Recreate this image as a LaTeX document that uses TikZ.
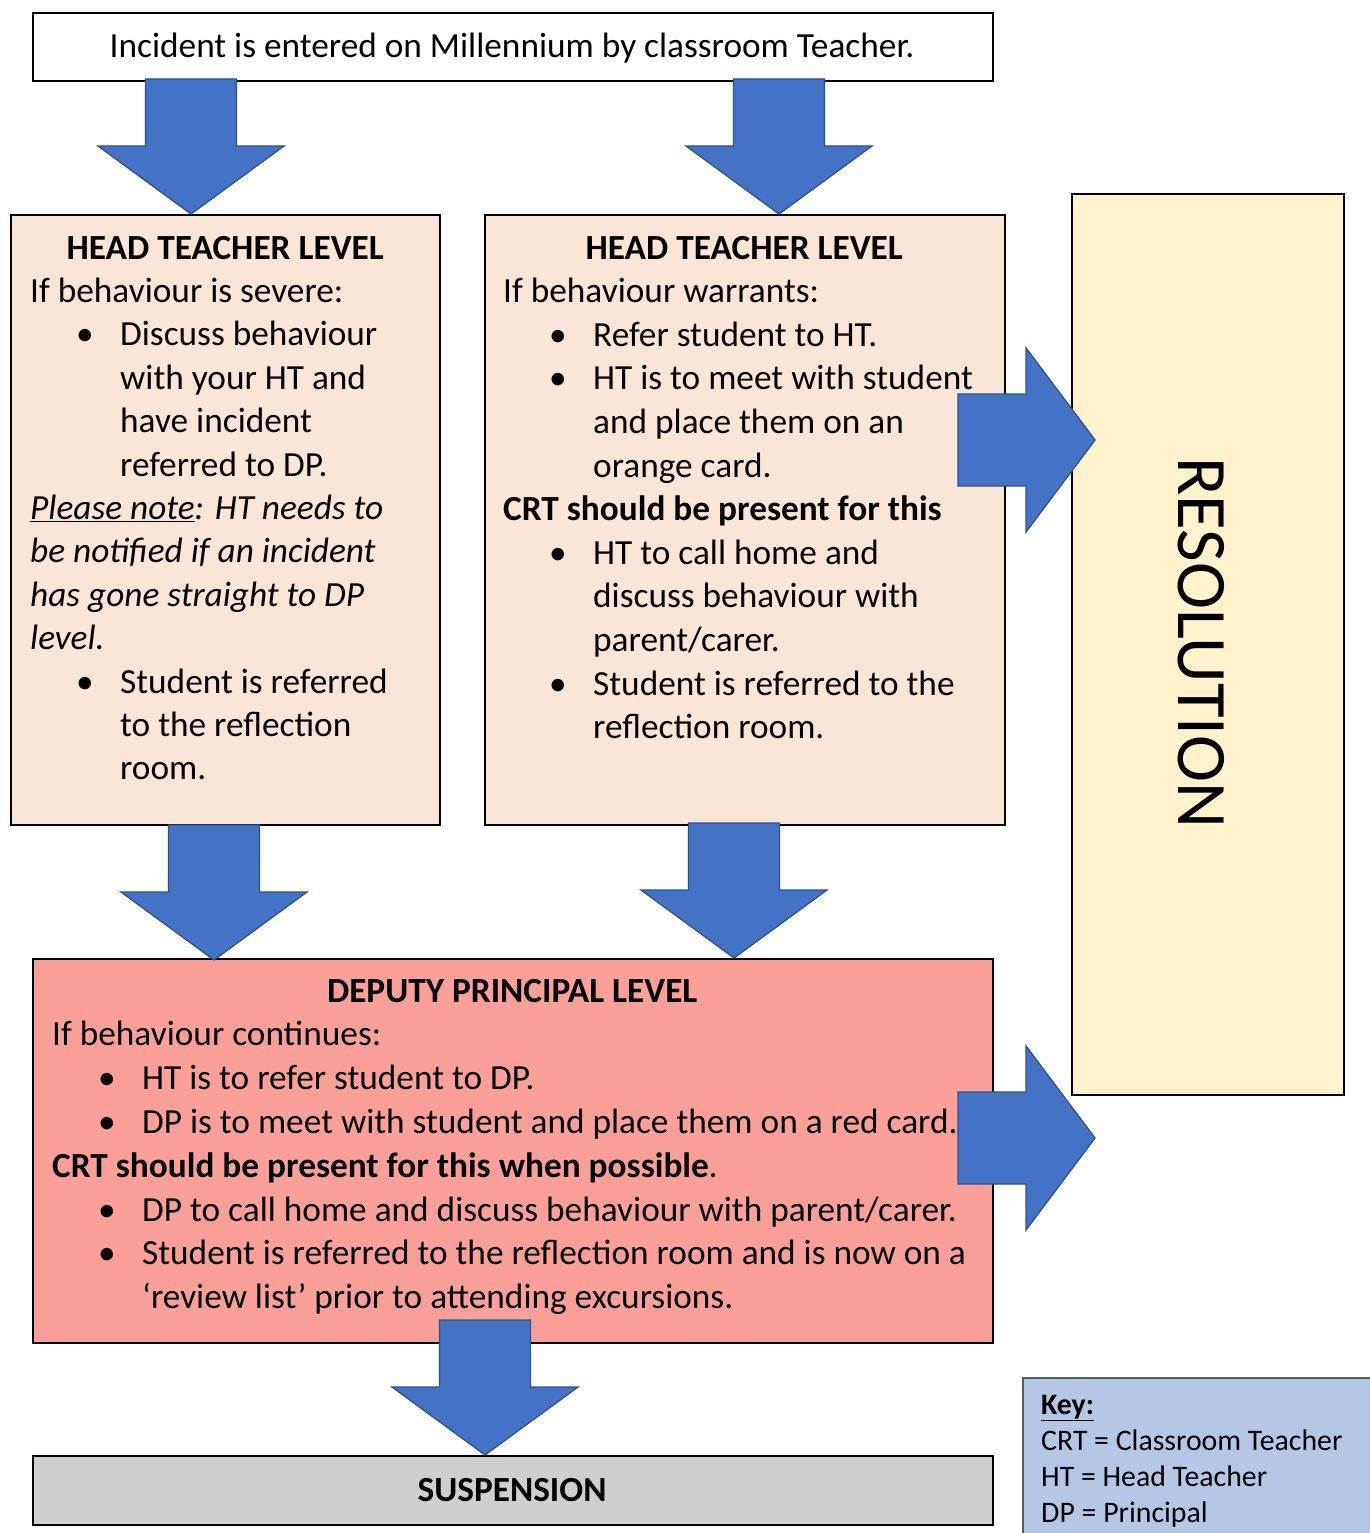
\documentclass[tikz,border=0pt]{standalone}
\usepackage{fontspec}
\setmainfont{Carlito}

\definecolor{htfill}{HTML}{FBE5D6}
\definecolor{dpfill}{RGB}{250,160,152}
\definecolor{resfill}{HTML}{FFF2CC}
\definecolor{susfill}{HTML}{D0CECE}
\definecolor{keyfill}{HTML}{B4C7E7}
\definecolor{keyedge}{HTML}{595959}
\definecolor{arrowblue}{HTML}{4472C4}
\definecolor{arrowedge}{HTML}{2F528F}

% bullet item and hanging continuation
\newcommand\bl{\makebox[90pt][l]{\hspace{46pt}\textbullet}}
\newcommand\ind{\hspace*{90pt}}
\newcommand\mainsize{\fontsize{35.3}{43.4}\selectfont}

\begin{document}
\begin{tikzpicture}[x=1pt,y=-1pt,
  box/.style={draw=black, line width=2pt, rectangle, inner sep=0pt, anchor=north west},
  txt/.style={inner sep=0pt, anchor=base west, font=\mainsize},
  barrow/.style={fill=arrowblue, draw=arrowedge, line width=1.3pt, line join=miter},
  pics/downarrow/.style={code={%
    \path[barrow] (0,0) -- (-93,-68) -- (-45.5,-68) -- (-45.5,-135)
      -- (45.5,-135) -- (45.5,-68) -- (93,-68) -- cycle;}},
  pics/rightarrow/.style={code={%
    \path[barrow] (0,0) -- (-69,-92) -- (-69,-46) -- (-137,-46)
      -- (-137,46) -- (-69,46) -- (-69,92) -- cycle;}},
]
\fill[white] (0,0) rectangle (1369,1533);
\path[use as bounding box] (0,0) rectangle (1369,1533);

% ---- boxes ----
\node[box, fill=white, minimum width=960pt, minimum height=68pt] (start) at (32,12) {};
\node[box, fill=htfill, minimum width=429pt, minimum height=610pt] (htl) at (10,214) {};
\node[box, fill=htfill, minimum width=520pt, minimum height=610pt] (htr) at (484,214) {};
\node[box, fill=resfill, minimum width=272pt, minimum height=901pt] (res) at (1071,193) {};
\node[box, fill=dpfill, minimum width=960pt, minimum height=384pt] (dp) at (32,958) {};
\node[box, fill=susfill, minimum width=960pt, minimum height=69pt] (sus) at (32,1455) {};
\node[box, draw=keyedge, fill=keyfill, minimum width=360pt, minimum height=170pt] (key) at (1022,1377) {};

% ---- texts ----
\node[inner sep=0pt, anchor=base, font=\mainsize] (starttxt) at (512,58)
  {Incident is entered on Millennium by classroom Teacher.};

\node[txt] (htltxt) at (30,259) {\parbox[t]{390pt}{\mainsize
  \makebox[\linewidth]{\bfseries HEAD TEACHER LEVEL}\\
  If behaviour is severe:\\
  \bl Discuss behaviour\\
  \ind with your HT and\\
  \ind have incident\\
  \ind referred to DP.\\
  \textit{\underline{Please note}: HT needs to}\\
  \textit{be notified if an incident}\\
  \textit{has gone straight to DP}\\
  \textit{level.}\\
  \bl Student is referred\\
  \ind to the reflection\\
  \ind room.}};

\node[txt] (htrtxt) at (503,259) {\parbox[t]{482pt}{\fontsize{35.3}{43.6}\selectfont
  \makebox[\linewidth]{\bfseries HEAD TEACHER LEVEL}\\
  If behaviour warrants:\\
  \bl Refer student to HT.\\
  \bl HT is to meet with student\\
  \ind and place them on an\\
  \ind orange card.\\
  \textbf{CRT should be present for this}\\
  \bl HT to call home and\\
  \ind discuss behaviour with\\
  \ind parent/carer.\\
  \bl Student is referred to the\\
  \ind reflection room.}};

\node[txt] (dptxt) at (52,1002) {\parbox[t]{920pt}{\fontsize{35.3}{43.8}\selectfont
  \makebox[\linewidth]{\bfseries DEPUTY PRINCIPAL LEVEL}\\
  If behaviour continues:\\
  \bl HT is to refer student to DP.\\
  \bl DP is to meet with student and place them on a red card.\\
  \textbf{CRT should be present for this when possible}.\\
  \bl DP to call home and discuss behaviour with parent/carer.\\
  \bl Student is referred to the reflection room and is now on a\\
  \ind `review list' prior to attending excursions.}};

\node[inner sep=0pt, rotate=-90, font=\fontsize{71}{75}\selectfont] (restxt) at (1201,643) {RESOLUTION};

\node[inner sep=0pt, anchor=base, font=\mainsize\bfseries] (sustxt) at (512,1501) {SUSPENSION};

\node[txt] (keytxt) at (1041,1414) {\parbox[t]{330pt}{\fontsize{29.8}{36}\selectfont
  \textbf{\underline{Key:}}\\
  CRT = Classroom Teacher\\
  HT = Head Teacher\\
  DP = Principal}};

% ---- block arrows (drawn over the boxes) ----
\pic at (191,214) {downarrow};
\pic at (779,214) {downarrow};
\pic at (214,960) {downarrow};
\pic at (734,958) {downarrow};
\pic at (485,1455) {downarrow};
\pic at (1095,440) {rightarrow};
\pic at (1095,1138) {rightarrow};
\end{tikzpicture}
\end{document}
